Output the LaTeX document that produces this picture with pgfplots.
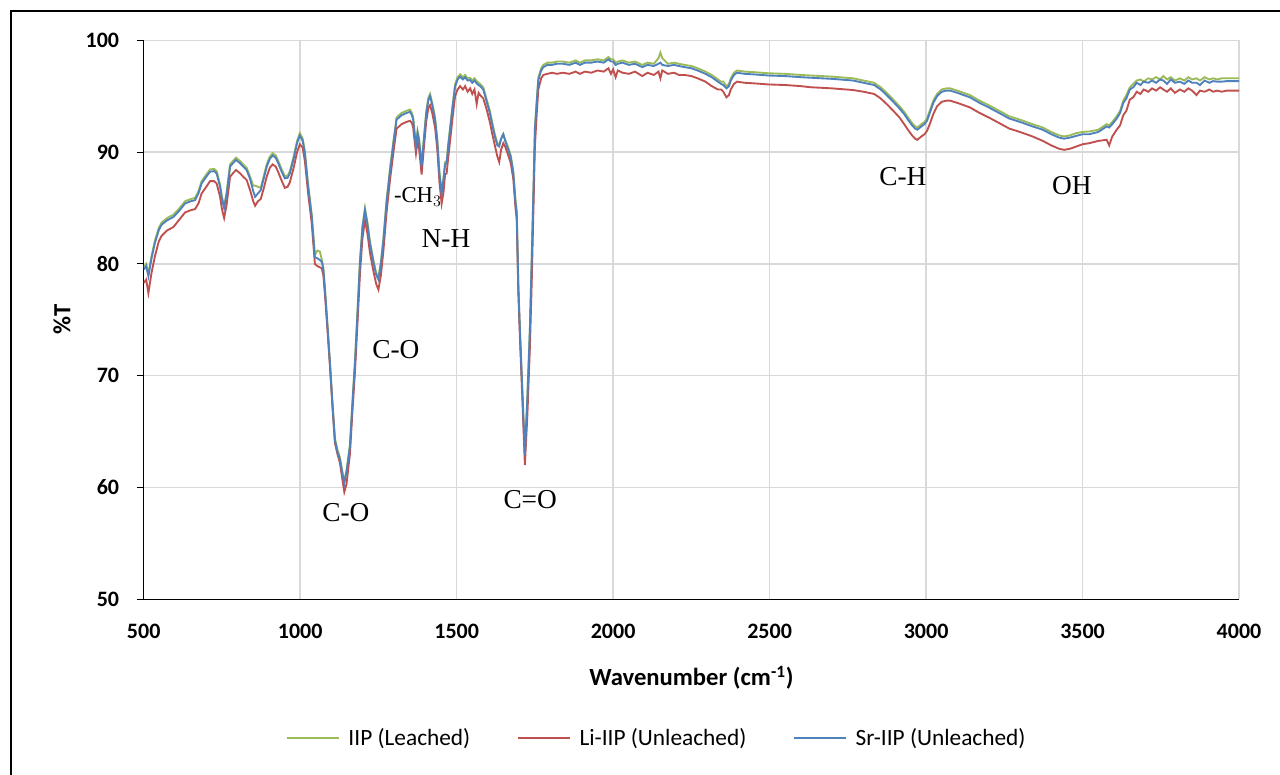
\documentclass[border=0pt]{standalone}
\usepackage{fontspec}
\setmainfont{Carlito}
\newfontfamily\tnr{Liberation Serif}
\usepackage{pgfplots}
\usepackage{pgfplotstable}
\pgfplotsset{compat=1.18}
\definecolor{cgreen}{HTML}{9BBB59}
\definecolor{cred}{HTML}{C0504D}
\definecolor{cblue}{HTML}{4F81BD}
\definecolor{gridgray}{HTML}{D9D9D9}
\pgfplotstableread{
x g r b
500 79.7 78.3 79.5
508 80.0 78.6 79.8
515 79.1 77.4 78.9
525 80.7 79.2 80.5
536 82.1 80.7 81.9
548 83.2 82.0 83.0
557 83.7 82.5 83.5
575 84.1 83.0 83.9
595 84.4 83.3 84.2
615 85.0 84.0 84.8
632 85.6 84.6 85.4
650 85.8 84.8 85.6
664 85.9 84.9 85.7
675 86.5 85.4 86.3
685 87.4 86.3 87.2
700 88.0 86.9 87.8
712 88.45 87.4 88.25
725 88.5 87.4 88.3
733 88.3 87.2 88.1
744 87.1 86.0 86.9
750 86.0 84.9 85.8
757 85.2 84.1 85.0
765 86.4 85.3 86.2
776 88.9 87.8 88.7
785 89.2 88.1 89.0
795 89.5 88.4 89.3
808 89.2 88.1 89.0
818 88.9 87.8 88.7
829 88.6 87.5 88.4
840 87.8 86.6 87.6
850 87.0 85.6 86.5
856 87.0 85.2 86.0
865 86.9 85.6 86.3
874 86.8 85.8 86.6
885 88.0 86.9 87.8
893 88.9 87.8 88.7
903 89.6 88.6 89.4
912 89.9 88.9 89.7
922 89.7 88.7 89.5
930 89.2 88.2 89.0
940 88.5 87.5 88.3
951 87.85 86.8 87.65
960 87.9 86.9 87.7
967 88.3 87.3 88.1
980 89.7 88.7 89.5
990 91.0 90.0 90.8
999 91.7 90.7 91.5
1008 91.2 90.4 91.0
1015 90.1 89.2 89.9
1025 87.2 86.4 87.0
1037 84.4 83.6 84.2
1047 80.8 80.0 80.6
1055 81.2 79.8 80.5
1063 81.1 79.7 80.35
1069 80.4 79.6 80.2
1074 79.7 79.0 79.5
1079 77.9 77.3 77.7
1087 74.7 74.2 74.5
1095 71.3 70.9 71.1
1103 67.7 67.3 67.5
1111 64.4 64.0 64.2
1119 63.4 63.0 63.2
1127 62.7 62.2 62.5
1135 61.4 60.7 61.2
1141 60.6 59.6 60.4
1148 61.5 60.3 61.4
1159 63.85 63.0 63.65
1167 67.7 66.8 67.5
1175 71.3 70.3 71.1
1183 75.7 74.6 75.5
1191 80.3 79.1 80.1
1199 83.4 82.3 83.2
1207 85.0 83.9 84.8
1215 83.7 82.7 83.5
1223 82.0 81.0 81.8
1235 80.2 79.2 80.0
1243 79.2 78.2 79.0
1250 78.8 77.7 78.6
1258 80.2 79.0 80.0
1266 82.3 81.2 82.1
1276 85.7 84.6 85.5
1287 88.5 87.5 88.3
1298 91.0 90.0 90.8
1308 93.1 92.1 92.9
1324 93.5 92.5 93.3
1340 93.7 92.7 93.5
1351 93.8 92.8 93.6
1357 93.5 92.6 93.3
1361 93.1 92.2 92.9
1366 91.7 90.9 91.5
1370 90.7 89.9 90.5
1375 91.9 91.0 91.7
1380 91.2 90.3 91.0
1388 88.9 88.0 88.7
1395 91.2 90.3 91.0
1403 93.7 92.8 93.5
1410 94.9 94.0 94.7
1415 95.2 94.2 95.0
1422 94.4 93.5 94.2
1431 93.1 92.2 92.9
1438 91.2 90.3 91.0
1445 88.2 87.3 88.0
1452 86.5 85.4 86.3
1458 87.7 86.4 87.5
1463 89.1 88.0 88.9
1468 89.2 88.1 89.0
1473 90.7 89.5 90.5
1479 92.2 91.0 92.0
1487 94.2 93.1 94.0
1495 96.05 95.0 95.85
1503 96.7 95.6 96.5
1511 96.95 95.9 96.75
1520 96.7 95.6 96.5
1527 96.9 95.9 96.7
1535 96.6 95.4 96.4
1543 96.65 95.7 96.45
1550 96.4 95.2 96.2
1557 96.6 95.6 96.4
1564 96.35 94.3 96.15
1570 96.2 95.3 96.0
1575 96.1 95.1 95.9
1585 95.8 94.8 95.6
1595 94.8 93.9 94.6
1606 93.7 92.7 93.5
1614 92.6 91.6 92.4
1622 91.6 90.6 91.4
1630 90.8 89.6 90.6
1636 90.7 89.1 90.5
1642 91.2 90.2 91.2
1649 91.6 90.8 91.6
1655 91.1 90.5 91.0
1665 90.4 89.7 90.2
1673 89.7 89.0 89.5
1681 88.3 87.6 88.1
1688 85.7 85.0 85.5
1692 84.7 84.0 84.5
1697 78.2 77.5 78.0
1702 74.3 73.5 74.1
1710 68.7 67.9 68.5
1718 63.1 62.0 62.9
1726 68.2 66.5 68.0
1734 74.3 72.5 74.1
1740 80.7 78.5 80.5
1745 86.2 84.5 86.0
1750 92.2 90.5 92.0
1756 94.7 93.5 94.5
1761 96.65 95.6 96.45
1770 97.5 96.6 97.3
1777 97.8 96.9 97.6
1790 98.0 97.0 97.8
1805 98.0 97.1 97.8
1820 98.1 97.0 97.9
1840 98.1 97.1 97.9
1860 98.0 97.0 97.8
1880 98.2 97.2 98.0
1894 98.0 97.0 97.8
1910 98.2 97.2 98.0
1930 98.2 97.1 98.0
1950 98.3 97.3 98.1
1970 98.2 97.2 98.0
1985 98.5 97.5 98.3
1993 98.3 97.0 98.1
2000 98.3 97.4 98.1
2008 98.0 96.7 97.8
2015 98.1 97.3 97.9
2030 98.2 97.1 98.0
2050 98.0 97.0 97.8
2070 98.1 97.2 97.9
2093 97.8 96.8 97.6
2110 98.0 97.1 97.8
2130 97.9 96.9 97.7
2145 98.4 97.2 97.9
2151 98.9 96.6 98.0
2157 98.4 97.3 97.8
2175 97.9 97.0 97.7
2195 98.0 97.1 97.8
2210 97.9 96.9 97.7
2228 97.8 96.9 97.6
2250 97.7 96.8 97.5
2270 97.5 96.6 97.3
2295 97.2 96.3 97.0
2315 96.9 95.9 96.7
2335 96.5 95.6 96.3
2345 96.3 95.6 96.1
2352 96.3 95.4 96.0
2362 95.9 94.9 95.7
2370 96.1 95.1 95.9
2376 96.6 95.6 96.4
2386 97.1 96.1 96.9
2396 97.3 96.3 97.1
2420 97.2 96.2 97.0
2450 97.15 96.15 96.95
2497 97.05 96.05 96.85
2550 97.0 96.0 96.8
2600 96.9 95.9 96.7
2632 96.85 95.8 96.65
2700 96.75 95.7 96.55
2767 96.6 95.55 96.4
2800 96.4 95.4 96.2
2834 96.2 95.2 96.0
2855 95.8 94.8 95.6
2874 95.3 94.3 95.1
2895 94.7 93.7 94.5
2915 94.1 93.1 93.9
2930 93.6 92.5 93.4
2942 93.1 92.0 92.9
2955 92.6 91.5 92.4
2965 92.3 91.2 92.1
2972 92.2 91.1 92.0
2985 92.5 91.4 92.3
2995 92.7 91.6 92.5
3003 93.0 91.9 92.8
3013 93.8 92.6 93.6
3023 94.6 93.4 94.4
3035 95.2 94.1 95.0
3050 95.6 94.5 95.4
3065 95.7 94.6 95.5
3077 95.7 94.6 95.5
3100 95.5 94.4 95.3
3140 95.1 94.0 94.9
3171 94.6 93.5 94.4
3200 94.2 93.1 94.0
3240 93.6 92.5 93.4
3266 93.2 92.1 93.0
3300 92.9 91.8 92.7
3340 92.5 91.4 92.3
3373 92.2 91.0 92.0
3400 91.8 90.6 91.6
3425 91.5 90.3 91.3
3441 91.4 90.2 91.2
3460 91.5 90.3 91.3
3480 91.7 90.5 91.45
3500 91.8 90.7 91.6
3522 91.85 90.8 91.6
3550 92.0 91.0 91.8
3577 92.5 91.1 92.3
3585 92.4 90.6 92.2
3595 92.7 91.4 92.5
3609 93.2 92.0 93.0
3620 93.7 92.4 93.5
3630 94.6 93.3 94.4
3640 95.1 93.7 94.8
3651 95.8 94.7 95.6
3662 96.1 94.9 95.8
3673 96.4 95.4 96.2
3685 96.5 95.2 96.0
3695 96.3 95.6 96.3
3710 96.6 95.4 96.2
3722 96.5 95.7 96.4
3735 96.7 95.5 96.2
3748 96.5 95.8 96.5
3758 96.8 95.6 96.4
3770 96.5 95.4 96.1
3782 96.7 95.7 96.5
3795 96.4 95.3 96.2
3811 96.6 95.6 96.3
3825 96.4 95.4 96.1
3838 96.7 95.7 96.4
3850 96.5 95.5 96.2
3864 96.6 95.1 96.2
3875 96.4 95.5 96.0
3890 96.7 95.4 96.4
3905 96.5 95.6 96.2
3917 96.6 95.4 96.35
3930 96.5 95.5 96.3
3945 96.6 95.4 96.3
3960 96.6 95.5 96.35
3975 96.6 95.5 96.35
3992 96.6 95.5 96.35
4000 96.6 95.5 96.35
}\spectra
\begin{document}
\begin{tikzpicture}
\useasboundingbox (0pt,0pt) rectangle (960pt,580.5pt);
\draw[line width=1pt] (8.25pt,-15pt) -- (8.25pt,572.25pt) -- (975pt,572.25pt);
\begin{axis}[
  at={(107.775pt,131.025pt)}, anchor=south west,
  scale only axis, width=821.5pt, height=419.25pt,
  xmin=500, xmax=4000, ymin=50, ymax=100,
  xtick={500,1000,...,4000}, ytick={50,60,...,100},
  axis lines=left, axis line style={black, line width=1pt, -},
  grid=major, grid style={gridgray, line width=1.1pt},
  tick align=outside, major tick length=5.25pt,
  xtick style={draw=none}, ytick style={black, line width=0.8pt},
  /pgf/number format/assume math mode=true,
  /pgf/number format/set thousands separator={},
  tick label style={font=\fontsize{16.5}{20}\selectfont\bfseries},
  xticklabel style={anchor=center, yshift=-19pt},
  yticklabel style={anchor=east, inner sep=0pt, xshift=-13pt},
  xlabel={Wavenumber (cm\textsuperscript{-1})},
  ylabel={\%T},
  label style={font=\fontsize{18.5}{22}\selectfont\bfseries},
  xlabel style={at={(axis description cs:0.5,-0.1408)}, anchor=center},
  ylabel style={at={(axis description cs:-0.0746,0.5)}, anchor=center, rotate=0},
  legend columns=3,
  legend style={at={(0.4687,-0.248)}, anchor=center, draw=none, fill=none,
    font=\fontsize{17.5}{20}\selectfont, inner sep=0pt,
    /tikz/every odd column/.append style={column sep=4.5pt},
    /tikz/every even column/.append style={column sep=33pt}},
  legend image code/.code={\draw[#1] (0pt,0pt) -- (39pt,0pt);},
  clip=true,
]
\addplot[cgreen, line width=1.4pt] table[x=x, y=g] {\spectra};
\addlegendentry{IIP (Leached)}
\addplot[cred, line width=1.4pt] table[x=x, y=r] {\spectra};
\addlegendentry{Li-IIP (Unleached)}
\addplot[cblue, line width=1.4pt] table[x=x, y=b] {\spectra};
\addlegendentry{Sr-IIP (Unleached)}
\node[font=\tnr\fontsize{17}{20}\selectfont, anchor=center] at (axis cs:1376,86.0) {-CH$_3$};
\node[font=\tnr\fontsize{20.5}{24}\selectfont, anchor=center] at (axis cs:1466,82.3) {N-H};
\node[font=\tnr\fontsize{20.5}{24}\selectfont, anchor=center] at (axis cs:1306,72.3) {C-O};
\node[font=\tnr\fontsize{20.5}{24}\selectfont, anchor=center] at (axis cs:1146,57.8) {C-O};
\node[font=\tnr\fontsize{20.5}{24}\selectfont, anchor=center] at (axis cs:1735,58.9) {C=O};
\node[font=\tnr\fontsize{20.5}{24}\selectfont, anchor=center] at (axis cs:2926,87.8) {C-H};
\node[font=\tnr\fontsize{20.5}{24}\selectfont, anchor=center] at (axis cs:3466,87.0) {OH};
\end{axis}
\end{tikzpicture}
\end{document}
